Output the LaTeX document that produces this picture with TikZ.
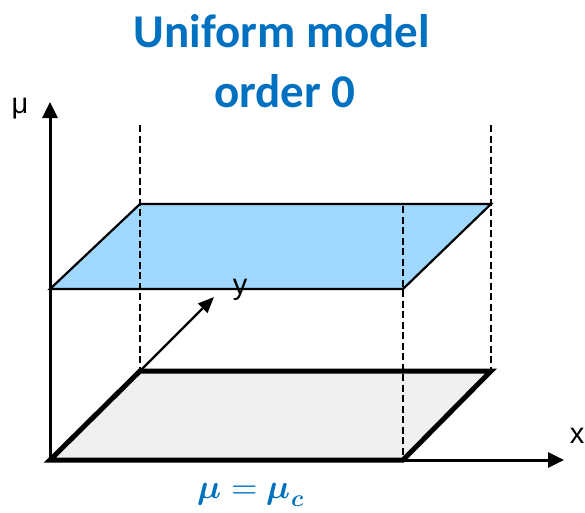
\documentclass[tikz,border=0pt]{standalone}
\usepackage{fontspec}
\usepackage{unicode-math}
\setmainfont{Liberation Sans}
\setmathfont{Latin Modern Math}
\newfontfamily\titlefont{Carlito}
\usetikzlibrary{arrows.meta}
\definecolor{titleblue}{HTML}{0070C0}
\definecolor{planeblue}{HTML}{A0D8FF}
\definecolor{planegray}{HTML}{F0F0F0}
\tikzset{
  axis/.style={line width=3pt,-{Triangle[width=15pt,length=16pt]}},
  yaxis/.style={line width=2.4pt,-{Triangle[width=13pt,length=16pt]}},
  guide/.style={line width=2.7pt,dash pattern=on 7pt off 3.5pt},
  highplane/.style={fill=planeblue,draw=black,line width=2.2pt},
  axlabel/.style={font=\fontsize{29}{34}\selectfont,inner sep=0pt},
  titletext/.style={font=\titlefont\bfseries\fontsize{47}{56}\selectfont,text=titleblue,inner sep=0pt,anchor=base},
}
\begin{document}
\begin{tikzpicture}[x=1pt,y=-1pt]
\useasboundingbox (0,0) rectangle (585,512);
% corners
\coordinate (O) at (50,460);
\coordinate (B1) at (403,460);
\coordinate (B2) at (491,371);
\coordinate (B3) at (140,371);
\coordinate (T0) at (50,289);
\coordinate (T1) at (403,289);
\coordinate (T2) at (491,204);
\coordinate (T3) at (140,204);
\coordinate (mutip) at (50,102);
\coordinate (xtip) at (564,460);
\coordinate (ytip) at (214,297);
\coordinate (G1) at (140,125);
\coordinate (G2) at (491,125);
\coordinate (G3) at (403,206);
% bottom plane
\fill[planegray] (O) -- (B1) -- (B2) -- (B3) -- cycle;
% axes
\draw[axis] (O) -- (mutip);
\draw[axis] (O) -- (xtip);
\draw[line width=5pt,line cap=round] (B3) -- (O) -- (B1) -- (B2) -- cycle;
% top plane
\draw[highplane] (T0) -- (T1) -- (T2) -- (T3) -- cycle;
% guides
\draw[guide] (G1) -- (B3);
\draw[guide] (G2) -- (B2);
\draw[guide] (G3) -- (B1);
% y axis
\draw[yaxis] (B3) -- (ytip);
% labels
\node[axlabel] (mulab) at (20,109) {μ};
\node[axlabel] (xlab) at (577,436) {x};
\node[axlabel] (ylab) at (240,290) {y};
\node[titletext] (t1) at (282,47) {Uniform model};
\node[titletext] (t2) at (285,107) {order 0};
\node[inner sep=0pt,anchor=base,text=titleblue,font=\fontsize{34}{40}\selectfont] (eq) at (251,498) {$\symbfit{\mu}=\symbfit{\mu}_{\symbfit{c}}$};
\end{tikzpicture}
\end{document}
